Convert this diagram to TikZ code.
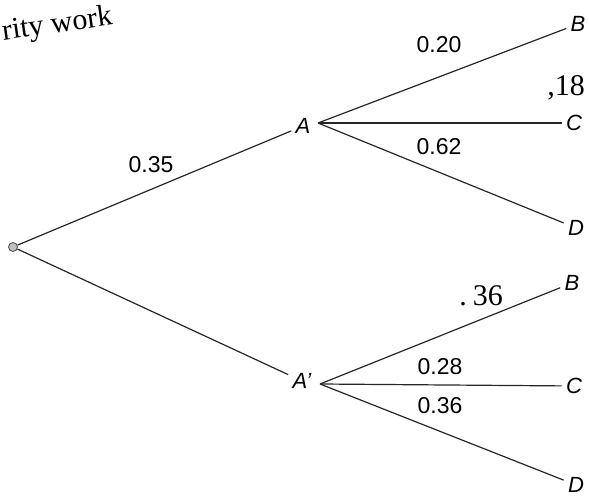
\documentclass[tikz,border=0pt]{standalone}
\usepackage{fontspec}
\setmainfont{Liberation Sans}
\newfontfamily\handfont{Liberation Serif}
\begin{document}
\begin{tikzpicture}[x=0.5pt,y=-0.5pt,
  branch/.style={draw=black!85, line width=0.6pt},
  lab/.style={font=\fontsize{11.5}{12}\selectfont, inner sep=0pt},
  ev/.style={font=\fontsize{11}{12}\selectfont\itshape, inner sep=2pt},
  hand/.style={font=\handfont\fontsize{15}{16}\selectfont, inner sep=0pt}]
\useasboundingbox (0,0) rectangle (589,496);
% root and event nodes
\node[circle, draw=black!70, fill=black!25, inner sep=0pt, minimum size=4.5pt] (root) at (13,247) {};
\node[ev] (A) at (303,126) {A};
\coordinate (Aj) at (318,123);
\node[ev] (A2) at (302,381) {A'};
\coordinate (A2j) at (320,384);
\node[ev] (B1) at (578,24) {B};
\node[ev] (C1) at (574,123) {C};
\node[ev] (D1) at (576,228) {D};
\node[ev] (B2) at (572,283) {B};
\node[ev] (C2) at (574,386) {C};
\node[ev] (D2) at (576,485) {D};
% branches
\draw[branch] (root) -- (A);
\draw[branch] (root) -- (A2);
\draw[branch] (Aj) -- (B1);
\draw[branch] (Aj) -- (C1);
\draw[branch] (Aj) -- (D1);
\draw[branch] (A2j) -- (B2);
\draw[branch] (A2j) -- (C2);
\draw[branch] (A2j) -- (D2);
% probabilities
\node[lab] (p35) at (151,165) {0.35};
\node[lab] (p20) at (439,45) {0.20};
\node[lab] (p62) at (439,147) {0.62};
\node[lab] (p28) at (440,367) {0.28};
\node[lab] (p36) at (440,406) {0.36};
% handwritten notes
\node[hand] (h18) at (566,88) {,18};
\node[hand] (h36) at (481,296) {.\hspace{3pt}36};
\node[hand, rotate=8, anchor=west] (hw) at (2,33) {rity work};
\end{tikzpicture}
\end{document}
